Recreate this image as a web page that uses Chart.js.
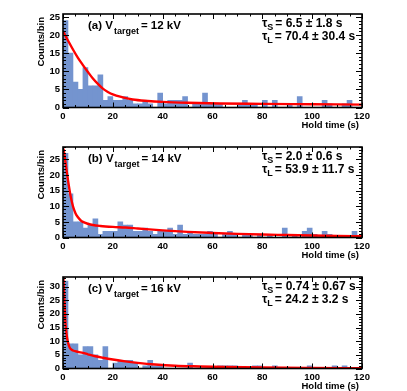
<!DOCTYPE html>
<html><head><meta charset="utf-8">
<script src="https://cdn.jsdelivr.net/npm/chart.js@4/dist/chart.umd.min.js"></script>
<style>
html,body{margin:0;padding:0;background:#fff;}
#wrap{position:relative;width:407px;height:391px;overflow:hidden;}
#wrap canvas{position:absolute;left:0;}
</style></head><body>
<div id="wrap">
<canvas id="ca" width="407" height="130" style="top:0px"></canvas>
<canvas id="cb" width="407" height="130" style="top:130px"></canvas>
<canvas id="cc" width="407" height="131" style="top:260px"></canvas>
</div>
<script>
// ---- data (2 s bins, hold time in s) ----
const binCenters = [1,3,5,7,9,11,13,15,17,19,21,23,25,27,29,31,33,35,37,39,41,43,45,47,49,51,53,55,57,59,
  61,63,65,67,69,71,73,75,77,79,81,83,85,87,89,91,93,95,97,99,101,103,105,107,109,111,113,115,117,119];
const countsA = [24,15,7,5,11,6,6,9,2,3, 2,2,3,2,1,1,2,1,0,4, 1,2,2,2,3,0,1,1,4,1,
  1,1,0,0,0,1,2,1,1,0, 2,0,2,0,0,1,0,3,0,0, 0,0,2,1,0,0,1,2,0,0];
const countsB = [27,14,5,5,3,4,6,1,2,2, 2,5,4,4,2,2,3,2,1,2, 2,3,1,4,1,2,1,1,1,2,
  1,0,1,2,1,0,1,1,0,1, 0,1,0,0,3,0,1,0,2,3, 1,0,2,1,0,0,0,0,2,0];
const countsC = [32,9,9,5,8,8,5,3,8,0, 2,3,3,3,2,0,1,3,1,1, 0,0,0,0,0,2,0,0,0,0,
  0,1,1,1,1,0,0,0,1,1, 0,0,1,0,0,0,0,0,0,1, 0,0,0,0,1,0,1,0,0,0];
// fitted double-exponential curves
const fitTimeA = [0,2,4,6,8,10,12,14,16,18,20,24,28,34,40,50,63,80,100,120];
const fitCountsA = [21,18.5,16,13.7,11.7,9.8,8.0,6.5,5.2,4.3,3.6,2.8,2.2,1.8,1.55,1.3,1.1,1.0,0.9,0.8];
const fitTimeB = [0.2,1,2,3,4,5,6,7,8,10,12,15,20,25,30,40,50,60,70,80,90,100,110,120];
const fitCountsB = [28.5,24,18.4,13.5,10,7.8,6.5,5.6,5,4.4,4,3.7,3.4,3.2,2.9,2.3,1.8,1.45,1.15,0.95,0.8,0.64,0.5,0.4];
const fitTimeC = [0.1,0.5,1,1.5,2,2.5,3,4,6,8,10,13,16,20,25,30,37,45,55,65,80,100,120];
const fitCountsC = [35,26,16.5,12,9.6,8,7.2,6.6,6.1,5.7,5.2,4.5,3.95,3.3,2.6,2.05,1.45,1.0,0.75,0.55,0.35,0.2,0.1];
const panelTags = ['(a)','(b)','(c)'];
const targetKV = ['12','14','16'];
const tauS = [['6.5','1.8'],['2.0','0.6'],['0.74','0.67']];
const tauL = [['70.4','30.4'],['53.9','11.7'],['24.2','3.2']];
const yMaxes = [25.8, 29, 33.5];

const FONT = '"Liberation Sans", Arial, Helvetica, sans-serif';
const BAR = 'rgb(116,148,207)';

function drawPieces(ctx, x, baseline, pieces){
  for(const p of pieces){
    ctx.font = 'bold ' + p.size + 'px ' + FONT;
    ctx.fillText(p.t, x, baseline + (p.dy||0));
    x += ctx.measureText(p.t).width + (p.gap||0);
  }
  return x;
}

const rootStyle = {
  id: 'rootStyle',
  afterDatasetsDraw(chart){
    const {ctx, chartArea:a, scales:{x, y}} = chart;
    const o = chart.options.plugins.rootStyle;
    ctx.save();
    ctx.strokeStyle = '#000';
    ctx.lineWidth = 1;
    ctx.beginPath();
    for(let v = 0; v <= 120; v += 5){
      const px = Math.round(x.getPixelForValue(v)) + 0.5;
      const L = (v % 20 === 0) ? 5 : 2.5;
      ctx.moveTo(px, a.bottom); ctx.lineTo(px, a.bottom - L);
      ctx.moveTo(px, a.top); ctx.lineTo(px, a.top + L);
    }
    for(let v = 0; v <= y.max; v += 1){
      const py = Math.round(y.getPixelForValue(v)) + 0.5;
      const L = (v % 5 === 0) ? 6 : 3;
      ctx.moveTo(a.left, py); ctx.lineTo(a.left + L, py);
      ctx.moveTo(a.right, py); ctx.lineTo(a.right - L, py);
    }
    ctx.stroke();
    ctx.lineWidth = 1.6;
    ctx.strokeRect(a.left, a.top, a.right - a.left, a.bottom - a.top);

    ctx.fillStyle = '#000';
    ctx.textAlign = 'left';
    ctx.textBaseline = 'alphabetic';
    // panel label
    drawPieces(ctx, 88, a.top + 15, [
      {t:o.tag + ' V', size:11.5, gap:1},
      {t:'target', size:9, dy:5, gap:2},
      {t:'= ' + o.kv + ' kV', size:11.5}
    ]);
    // tau values
    drawPieces(ctx, 262, a.top + 13, [
      {t:'\u03C4', size:12},
      {t:'S', size:9, dy:3, gap:2},
      {t:'= ' + o.tS[0] + ' \u00B1 ' + o.tS[1] + ' s', size:12}
    ]);
    drawPieces(ctx, 262, a.top + 26, [
      {t:'\u03C4', size:12},
      {t:'L', size:9, dy:3, gap:2},
      {t:'= ' + o.tL[0] + ' \u00B1 ' + o.tL[1] + ' s', size:12}
    ]);
    // axis titles
    ctx.font = 'bold 9.5px ' + FONT;
    ctx.textAlign = 'right';
    ctx.fillText('Hold time (s)', a.right - 3, a.bottom + 20);
    ctx.save();
    ctx.translate(44, a.top + 3);
    ctx.rotate(-Math.PI / 2);
    ctx.textAlign = 'right';
    ctx.fillText('Counts/bin', 0, 0);
    ctx.restore();
    ctx.restore();
  }
};

function makePanel(canvasId, i, counts, fitT, fitY, top){
  const bars = binCenters.map((c, k) => ({x:c, y:counts[k]}));
  const fit = fitT.map((t, k) => ({x:t, y:fitY[k]}));
  const bottom = 107.5;
  return new Chart(document.getElementById(canvasId), {
    data: {
      datasets: [
        {type:'line', data:fit, borderColor:'#ff0000', borderWidth:2.4, pointRadius:0,
         cubicInterpolationMode:'monotone', order:0},
        {type:'bar', data:bars, backgroundColor:BAR, borderWidth:0,
         barPercentage:1, categoryPercentage:1, order:1}
      ]
    },
    options: {
      responsive:false, animation:false, events:[],
      layout:{padding:{left:0, right:45, top:top, bottom:0}},
      plugins:{legend:{display:false}, tooltip:{enabled:false},
        rootStyle:{tag:panelTags[i], kv:targetKV[i], tS:tauS[i], tL:tauL[i]}},
      scales:{
        x:{type:'linear', min:0, max:120, offset:false,
           grid:{display:false, drawTicks:false}, border:{display:false},
           ticks:{stepSize:20, padding:3, color:'#000', maxRotation:0,
                  font:{family:FONT, size:9.5, weight:'bold'}},
           afterFit(s){ s.height = 130 - bottom; }},
        y:{type:'linear', min:0, max:yMaxes[i],
           grid:{display:false, drawTicks:false}, border:{display:false},
           ticks:{stepSize:5, includeBounds:false, padding:3, color:'#000',
                  font:{family:FONT, size:9.5, weight:'bold'}},
           afterBuildTicks(s){ s.ticks = s.ticks.filter(t => t.value % 5 === 0); },
           afterFit(s){ s.width = 63; }}
      }
    },
    plugins:[rootStyle]
  });
}

makePanel('ca', 0, countsA, fitTimeA, fitCountsA, 14);
makePanel('cb', 1, countsB, fitTimeB, fitCountsB, 17);
makePanel('cc', 2, countsC, fitTimeC, fitCountsC, 17);
</script>
</body></html>
